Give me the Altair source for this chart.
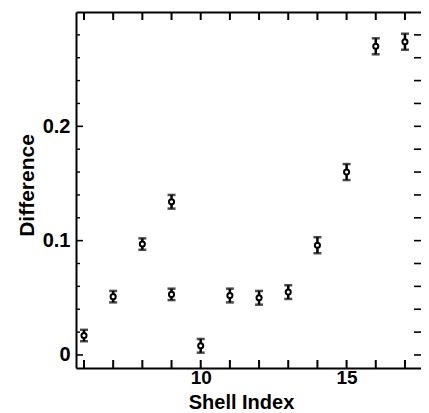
import altair as alt
import pandas as pd

# data
shell_index = [6, 7, 8, 9, 9, 10, 11, 12, 13, 14, 15, 16, 17]
difference = [0.017, 0.051, 0.097, 0.134, 0.053, 0.008, 0.052, 0.050, 0.055, 0.096, 0.160, 0.270, 0.274]
error = [0.005, 0.005, 0.005, 0.006, 0.005, 0.006, 0.006, 0.006, 0.006, 0.007, 0.007, 0.007, 0.007]

x_ticks = [6, 7, 8, 9, 10, 11, 12, 13, 14, 15, 16, 17]
x_labels = [10, 15]
y_labels = [0, 0.1, 0.2]
y_minor = [0.02, 0.04, 0.06, 0.08, 0.12, 0.14, 0.16, 0.18, 0.22, 0.24, 0.26, 0.28]

W, H = 345, 356
FONT = "Liberation Sans"

df = pd.DataFrame({"x": shell_index, "y": difference, "e": error})
xt = pd.DataFrame({"t": x_ticks})
ymaj = pd.DataFrame({"v": y_labels})
ymin = pd.DataFrame({"v": y_minor})
yall = pd.DataFrame({"v": sorted(y_labels + y_minor)})

xs = alt.Scale(domain=[5.726, 17.55], nice=False, zero=False)
ys = alt.Scale(domain=[-0.0114, 0.30], nice=False, zero=False)

x_axis = alt.Axis(values=x_labels, ticks=False, tickSize=0, domainWidth=2, domainColor="black",
                  labelFontSize=19, labelFont=FONT, labelFontWeight="bold", labelColor="black",
                  labelPadding=0, title="Shell Index", titleFont=FONT, titleFontSize=20,
                  titleFontWeight="bold", titleColor="black", titleX=165, titleY=40,
                  titleBaseline="alphabetic", titleAlign="center", grid=False)
y_axis = alt.Axis(values=y_labels, format="~g", ticks=False, tickSize=0, domainWidth=2,
                  domainColor="black", labelFontSize=20, labelFont=FONT, labelFontWeight="bold",
                  labelColor="black", labelPadding=6, title="Difference", titleFont=FONT,
                  titleFontSize=21, titleFontWeight="bold", titleColor="black", titleAngle=270,
                  titleX=-43, titleY=173, titleBaseline="alphabetic", titleAlign="center", grid=False)

base = alt.Chart(df).transform_calculate(lo="datum.y - datum.e", hi="datum.y + datum.e")

bars = base.mark_rule(color="black", strokeWidth=2.5).encode(
    x=alt.X("x:Q", scale=xs, axis=x_axis),
    y=alt.Y("lo:Q", scale=ys, axis=y_axis),
    y2="hi:Q",
)
cap_lo = base.mark_tick(color="black", orient="horizontal", size=8, thickness=2.5).encode(
    x=alt.X("x:Q", scale=xs, axis=None), y=alt.Y("lo:Q", scale=ys, axis=None))
cap_hi = base.mark_tick(color="black", orient="horizontal", size=8, thickness=2.5).encode(
    x=alt.X("x:Q", scale=xs, axis=None), y=alt.Y("hi:Q", scale=ys, axis=None))
pts = base.mark_point(shape="circle", filled=True, fill="white", stroke="black",
                      strokeWidth=2, size=26, opacity=1).encode(
    x=alt.X("x:Q", scale=xs, axis=None), y=alt.Y("y:Q", scale=ys, axis=None))

top_axis = alt.Axis(orient="top", labels=False, ticks=False, tickSize=0, domainWidth=2,
                    domainColor="black", title=None, grid=False)
top_ticks = alt.Chart(xt).mark_rule(color="black", strokeWidth=2).encode(
    x=alt.X("t:Q", scale=xs, axis=top_axis), y=alt.value(0), y2=alt.value(8))
bot_ticks = alt.Chart(xt).mark_rule(color="black", strokeWidth=2).encode(
    x=alt.X("t:Q", scale=xs, axis=None), y=alt.value(H), y2=alt.value(H - 8))
left_major = alt.Chart(ymaj).mark_rule(color="black", strokeWidth=1.6).encode(
    y=alt.Y("v:Q", scale=ys, axis=None), x=alt.value(0), x2=alt.value(7))
left_minor = alt.Chart(ymin).mark_rule(color="black", strokeWidth=1.4).encode(
    y=alt.Y("v:Q", scale=ys, axis=None), x=alt.value(0), x2=alt.value(4))
right_ticks = alt.Chart(yall).mark_rule(color="black", strokeWidth=1.6).encode(
    y=alt.Y("v:Q", scale=ys, axis=None), x=alt.value(W), x2=alt.value(W - 7))

chart = alt.layer(
    bars, top_ticks, bot_ticks, left_major, left_minor, right_ticks, cap_lo, cap_hi, pts
).resolve_axis(x="independent", y="independent").properties(
    width=W, height=H,
    autosize=alt.AutoSizeParams(type="none"),
    padding={"left": 68, "top": 4, "right": 0, "bottom": 45},
    background="white",
).configure_view(stroke=None)

chart.save("out.html", embed_options={"renderer": "svg", "actions": False})
